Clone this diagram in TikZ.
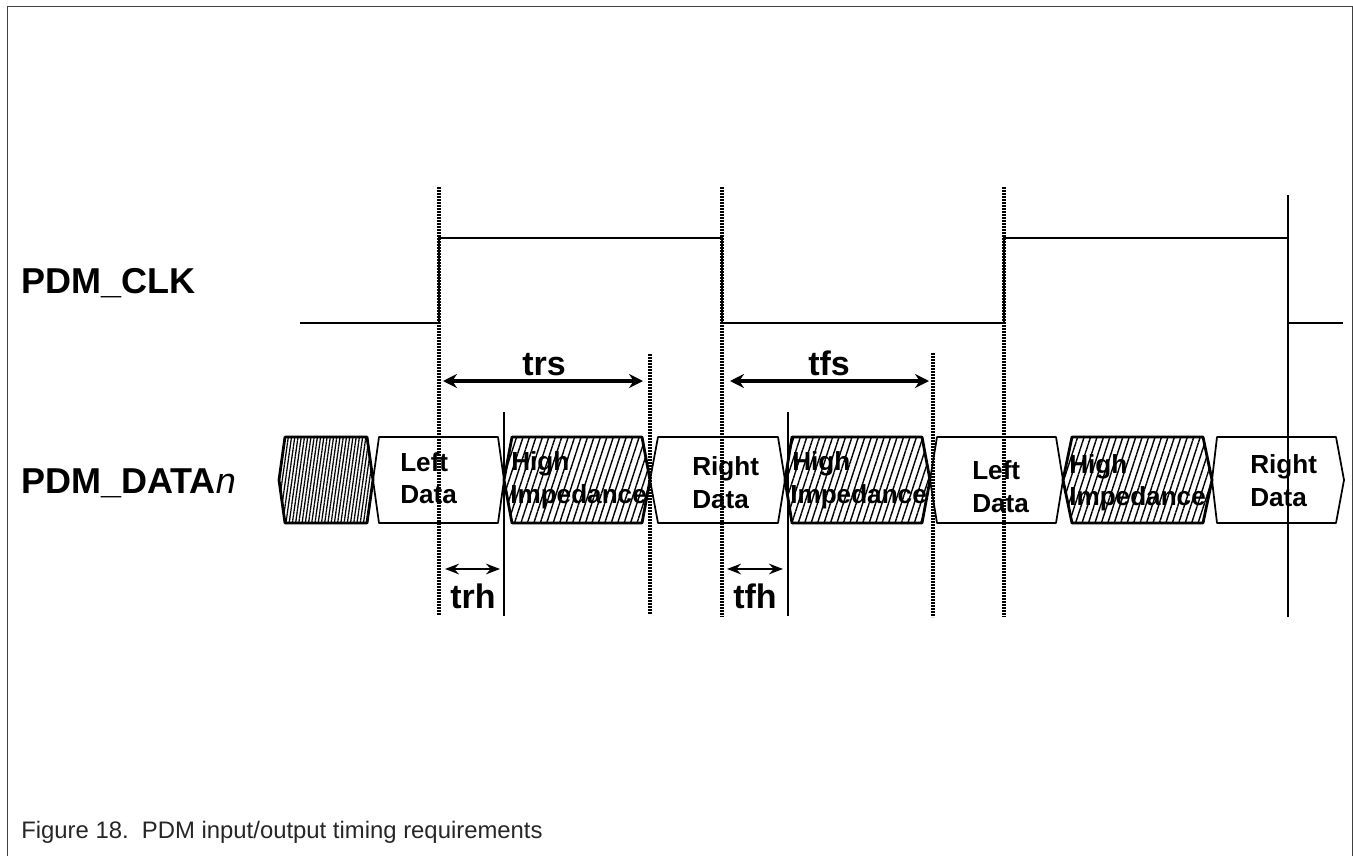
\documentclass[tikz,border=0pt]{standalone}
\usepackage{fontspec}
\setmainfont{Liberation Sans}
\usetikzlibrary{patterns.meta,arrows.meta}
\tikzset{
    dotline/.style={line width=2.4pt,black,dash pattern=on 1.7pt off 0.55pt},
    solidline/.style={line width=1.3pt,black},
    clkline/.style={line width=1.1pt,black},
    datahex/.style={line width=1.3pt,black,line join=round},
    densehex/.style={line width=2.1pt,black,line join=round,pattern={Lines[angle=82,distance=2.4pt,line width=0.95pt]},pattern color=black},
    hizhex/.style={line width=2.1pt,black,line join=round,pattern={Lines[angle=72,distance=4.6pt,line width=1.05pt]},pattern color=black},
    hexlabel/.style={anchor=base west,inner sep=0pt,font=\fontsize{19.6pt}{19.6pt}\bfseries},
    timelabel/.style={anchor=base west,inner sep=0pt,font=\fontsize{25.5pt}{25.5pt}\bfseries},
    signame/.style={anchor=base west,inner sep=0pt,font=\fontsize{27pt}{27pt}\bfseries},
    bigtip/.style={line width=3pt,black,{Stealth[length=10.5pt,width=10.5pt,inset=3.5pt]}-{Stealth[length=10.5pt,width=10.5pt,inset=3.5pt]}},
    smalltip/.style={line width=1.3pt,black,{Stealth[length=10.5pt,width=8pt,inset=3.5pt]}-{Stealth[length=10.5pt,width=8pt,inset=3.5pt]}}
}
\begin{document}
\begin{tikzpicture}[x=0.75pt,y=-0.75pt]
    \useasboundingbox (0,0) rectangle (1353,856);
    \draw[line width=0.75pt,black!75] (7,856)--(7,7)--(1352,7)--(1352,856);

    \coordinate (rise) at (439,187);
    \coordinate (riseend) at (439,615);
    \coordinate (fall) at (722,187);
    \coordinate (fallend) at (722,617);
    \coordinate (risetwo) at (1004,187);
    \coordinate (risetwoend) at (1004,617);
    \coordinate (falltwo) at (1288,195);
    \coordinate (falltwoend) at (1288,617);
    \coordinate (rsetup) at (650,354);
    \coordinate (rsetupend) at (650,614);
    \coordinate (fsetup) at (933,353);
    \coordinate (fsetupend) at (933,617);
    \coordinate (rhold) at (504,412);
    \coordinate (rholdend) at (504,616);
    \coordinate (fhold) at (788,412);
    \coordinate (fholdend) at (788,616);

    % clock
    \draw[clkline] (300,323)--(439,323)--(439,238)--(722,238)--(722,323)--(1004,323)--(1004,238)--(1288,238)--(1288,323)--(1343,323);

    % data bus
    \draw[densehex] (279,480)--(285,437)--(367,437)--(373,480)--(367,523)--(285,523)--cycle;
    \draw[datahex] (373,480)--(379,437)--(498,437)--(504,480)--(498,523)--(379,523)--cycle;
    \draw[hizhex] (504,480)--(512,437)--(642,437)--(650,480)--(642,523)--(512,523)--cycle;
    \draw[datahex] (650,480)--(658,437)--(778,437)--(785,480)--(778,523)--(658,523)--cycle;
    \draw[hizhex] (785,480)--(792,437)--(922,437)--(930,480)--(922,523)--(792,523)--cycle;
    \draw[datahex] (930,480)--(937,437)--(1056,437)--(1063,480)--(1056,523)--(937,523)--cycle;
    \draw[hizhex] (1063,480)--(1072,437)--(1203,437)--(1212,480)--(1203,523)--(1072,523)--cycle;
    \draw[datahex] (1212,480)--(1217,437)--(1336,437)--(1344,480)--(1336,523)--(1217,523)--cycle;

    \node[signame] (clkname) at (21,293) {PDM\_CLK};
    \node[signame] (dataname) at (21,493) {PDM\_DATA{\mdseries\itshape n}};

    \node[hexlabel] (leftone) at (400,471) {Left};
    \node[hexlabel] (leftonedata) at (400,503) {Data};
    \node[hexlabel] (hizone) at (511,470) {High};
    \node[hexlabel] (hizonelow) at (510,503) {Impedance};
    \node[hexlabel] (rightone) at (692,475) {Right};
    \node[hexlabel] (rightonedata) at (692,508) {Data};
    \node[hexlabel] (hiztwo) at (792,470) {High};
    \node[hexlabel] (hiztwolow) at (790,503) {Impedance};
    \node[hexlabel] (lefttwo) at (972,479) {Left};
    \node[hexlabel] (lefttwodata) at (972,512) {Data};
    \node[hexlabel] (hizthree) at (1069,473) {High};
    \node[hexlabel] (hizthreelow) at (1069,505) {Impedance};
    \node[hexlabel] (righttwo) at (1250,473) {Right};
    \node[hexlabel] (righttwodata) at (1250,506) {Data};

    % edges
    \draw[dotline] (rise)--(riseend);
    \draw[dotline] (fall)--(fallend);
    \draw[dotline] (risetwo)--(risetwoend);
    \draw[solidline] (falltwo)--(falltwoend);
    \draw[dotline] (rsetup)--(rsetupend);
    \draw[dotline] (fsetup)--(fsetupend);
    \draw[solidline] (rhold)--(rholdend);
    \draw[solidline] (fhold)--(fholdend);

    % timing arrows
    \coordinate (trsa) at (443,381);
    \coordinate (trsb) at (643,381);
    \coordinate (tfsa) at (730,381);
    \coordinate (tfsb) at (929,381);
    \coordinate (trha) at (445,569);
    \coordinate (trhb) at (500,569);
    \coordinate (tfha) at (727,569);
    \coordinate (tfhb) at (783,569);
    \draw[bigtip](trsa)--(trsb);
    \draw[bigtip](tfsa)--(tfsb);
    \draw[smalltip](trha)--(trhb);
    \draw[smalltip](tfha)--(tfhb);

    \node[timelabel] (trs) at (522,375) {trs};
    \node[timelabel] (tfs) at (808,375) {tfs};
    \node[timelabel] (trh) at (450,608) {trh};
    \node[timelabel] (tfh) at (733,608) {tfh};

    \node[anchor=base west,inner sep=0pt,text=black!85,font=\fontsize{17.9pt}{17.9pt}\selectfont] (caption) at (21,838) {Figure 18.\ \ PDM input/output timing requirements};
\end{tikzpicture}
\end{document}
